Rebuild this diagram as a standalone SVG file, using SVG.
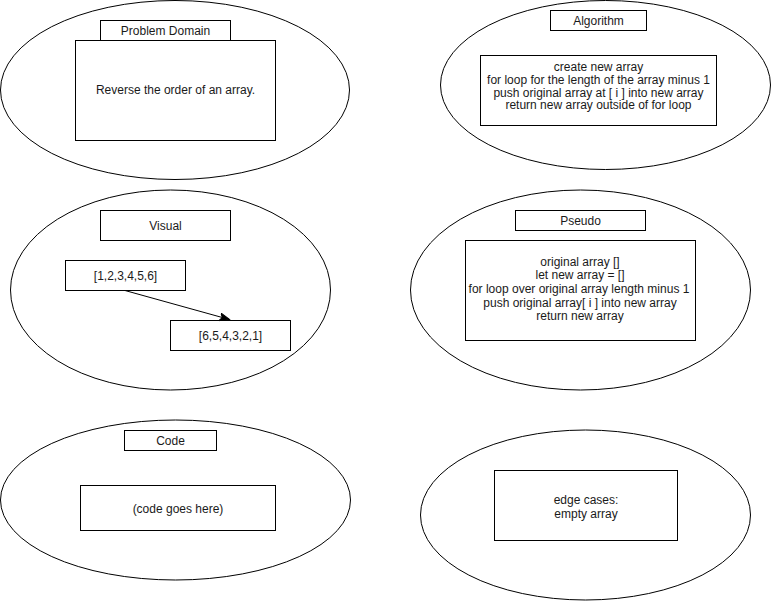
<svg xmlns="http://www.w3.org/2000/svg" width="771" height="602" viewBox="0 0 771 602">
<style>
  .shape { fill: #ffffff; stroke: #000000; stroke-width: 1; }
  .t { font-family: "Liberation Sans", Arial, Helvetica, sans-serif; font-size: 12px; fill: #1a1a1a; text-anchor: middle; }
  .edge { fill: none; stroke: #000000; stroke-width: 1; }
</style>
<defs>
  <marker id="arrow" markerUnits="userSpaceOnUse" markerWidth="12" markerHeight="10" refX="10" refY="4" orient="auto" viewBox="0 0 12 10">
    <path d="M0,0 L10,4 L0,8 L2.5,4 Z" fill="#000000" stroke="#000000" stroke-width="1"/>
  </marker>
</defs>
<rect x="0" y="0" width="771" height="602" fill="#ffffff"/>

<g id="problem-domain">
  <ellipse class="shape" cx="175" cy="90" rx="174.5" ry="89.5"/>
  <rect class="shape" x="100.5" y="20.5" width="130" height="20"/>
  <text class="t" x="165.5" y="35">Problem Domain</text>
  <rect class="shape" x="75.5" y="40.5" width="200" height="100"/>
  <text class="t" x="175.5" y="94">Reverse the order of an array.</text>
</g>

<g id="algorithm">
  <ellipse class="shape" cx="605.5" cy="85" rx="165" ry="84.5"/>
  <rect class="shape" x="550.5" y="10.5" width="96" height="20"/>
  <text class="t" x="598.5" y="25">Algorithm</text>
  <rect class="shape" x="480.5" y="55.5" width="236" height="70"/>
  <text class="t" x="598.5" y="71.3">create new array</text>
  <text class="t" x="598.5" y="84">for loop for the length of the array minus 1</text>
  <text class="t" x="598.5" y="96.7">push original array at [ i ] into new array</text>
  <text class="t" x="598.5" y="109.4">return new array outside of for loop</text>
</g>

<g id="visual">
  <ellipse class="shape" cx="170.5" cy="290" rx="160" ry="100"/>
  <rect class="shape" x="100.5" y="210.5" width="130" height="30"/>
  <text class="t" x="165.5" y="230">Visual</text>
</g>

<g id="array-original">
  <rect class="shape" x="65.5" y="260.5" width="120" height="30"/>
  <text class="t" x="125.5" y="279.5">[1,2,3,4,5,6]</text>
</g>

<g id="array-reversed">
  <rect class="shape" x="170.5" y="320.5" width="120" height="30"/>
  <text class="t" x="230.5" y="340">[6,5,4,3,2,1]</text>
</g>

<g id="pseudo">
  <ellipse class="shape" cx="580.5" cy="290" rx="170" ry="100"/>
  <rect class="shape" x="515.5" y="210.5" width="130" height="20"/>
  <text class="t" x="580.5" y="225">Pseudo</text>
  <rect class="shape" x="465.5" y="240.5" width="230" height="100"/>
  <text class="t" x="580" y="265.7">original array []</text>
  <text class="t" x="580" y="279.3">let new array = []</text>
  <text class="t" x="579" y="292.9">for loop over original array length minus 1</text>
  <text class="t" x="580" y="306.5">push original array[ i ] into new array</text>
  <text class="t" x="580" y="320.1">return new array</text>
</g>

<g id="code">
  <ellipse class="shape" cx="175.5" cy="500" rx="175" ry="80"/>
  <rect class="shape" x="124.5" y="430.5" width="92" height="20"/>
  <text class="t" x="170.5" y="444.5">Code</text>
  <rect class="shape" x="80.5" y="485.5" width="195" height="45"/>
  <text class="t" x="178" y="513">(code goes here)</text>
</g>

<g id="edge-cases">
  <ellipse class="shape" cx="585.5" cy="515" rx="165" ry="85"/>
  <rect class="shape" x="494.5" y="470.5" width="183" height="70"/>
  <text class="t" x="586" y="503.5">edge cases:</text>
  <text class="t" x="586" y="517.5">empty array</text>
</g>

<g id="connectors">
  <line class="edge" x1="125" y1="290.5" x2="229.5" y2="319.5" marker-end="url(#arrow)"/>
</g>
</svg>
